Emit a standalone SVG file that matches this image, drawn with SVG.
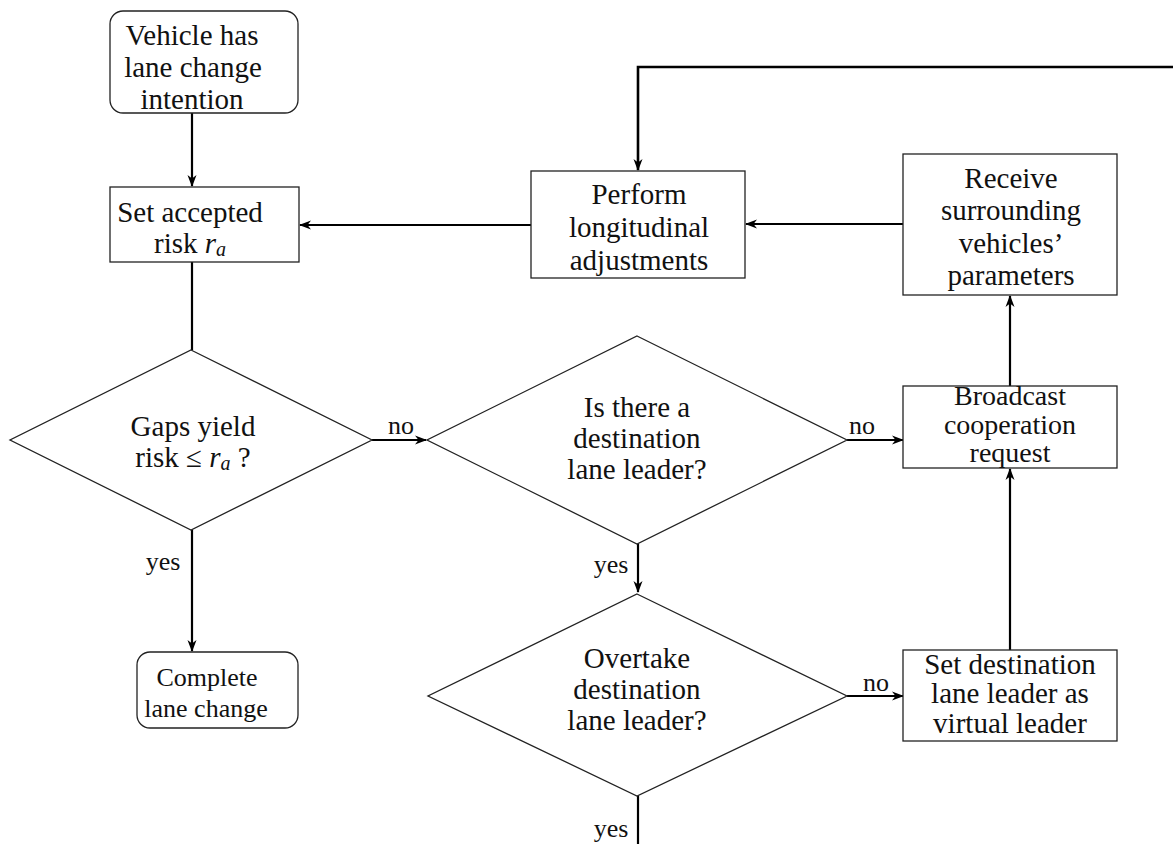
<svg xmlns="http://www.w3.org/2000/svg" width="1173" height="844" viewBox="0 0 1173 844">
<style>
.shape{fill:#fff;stroke:#222;stroke-width:1.3}
.conn{fill:none;stroke:#000;stroke-width:2.2}
text{font-family:"Liberation Serif","Times New Roman",serif;font-size:29px;fill:#111;text-anchor:middle}
.lbl{font-size:26px}
.bc{font-size:28px}
.cp{font-size:26px}
.it{font-style:italic}
.sub{font-style:italic;font-size:20px}
</style>
<defs>
<marker id="ah" markerWidth="12" markerHeight="10" refX="11" refY="5" orient="auto" markerUnits="userSpaceOnUse">
<path d="M0,0.5 L12,5 L0,9.5 L3.5,5 Z" fill="#000"/>
</marker>
</defs>
<rect width="1173" height="844" fill="#fff"/>
<g id="connectors">
<line class="conn" x1="192" y1="113" x2="192" y2="186" marker-end="url(#ah)"/>
<line class="conn" x1="531" y1="225" x2="300" y2="225" marker-end="url(#ah)"/>
<line class="conn" x1="903" y1="224" x2="746" y2="224" marker-end="url(#ah)"/>
<polyline class="conn" points="1173,67 638,67 638,170" marker-end="url(#ah)" style="stroke-width:2.6"/>
<line class="conn" x1="192" y1="262" x2="192" y2="350"/>
<line class="conn" x1="372" y1="440" x2="426" y2="440" marker-end="url(#ah)"/>
<line class="conn" x1="847" y1="440" x2="903" y2="440" marker-end="url(#ah)"/>
<line class="conn" x1="1010" y1="386" x2="1010" y2="296" marker-end="url(#ah)"/>
<line class="conn" x1="192" y1="530" x2="192" y2="651" marker-end="url(#ah)"/>
<line class="conn" x1="638" y1="544" x2="638" y2="592" marker-end="url(#ah)"/>
<line class="conn" x1="847" y1="696" x2="903" y2="696" marker-end="url(#ah)"/>
<line class="conn" x1="1010" y1="650" x2="1010" y2="469" marker-end="url(#ah)"/>
<line class="conn" x1="638" y1="796" x2="638" y2="844"/>
<text class="lbl" x="401" y="434">no</text>
<text class="lbl" x="862" y="434">no</text>
<text class="lbl" x="876" y="691">no</text>
<text class="lbl" x="163" y="570">yes</text>
<text class="lbl" x="611" y="573">yes</text>
<text class="lbl" x="611" y="837">yes</text>
</g>
<g id="start">
<rect class="shape" x="110" y="11" width="188" height="102" rx="13"/>
<text x="192" y="45">Vehicle has</text>
<text x="193" y="77">lane change</text>
<text x="192" y="109">intention</text>
</g>
<g id="set-risk">
<rect class="shape" x="110" y="187" width="189" height="75"/>
<text x="190" y="222">Set accepted</text>
<text x="190" y="253">risk <tspan class="it">r</tspan><tspan class="sub" dy="3">a</tspan></text>
</g>
<g id="perform">
<rect class="shape" x="531" y="171" width="214" height="107"/>
<text x="639" y="204">Perform</text>
<text x="639" y="237">longitudinal</text>
<text x="639" y="270">adjustments</text>
</g>
<g id="receive">
<rect class="shape" x="903" y="154" width="214" height="141"/>
<text x="1011" y="188">Receive</text>
<text x="1011" y="220">surrounding</text>
<text x="1011" y="253">vehicles’</text>
<text x="1011" y="285">parameters</text>
</g>
<g id="gaps">
<polygon class="shape" points="191,350 372,440 191,530 10,440"/>
<text x="193" y="436">Gaps yield</text>
<text x="193" y="467">risk ≤   <tspan class="it">r</tspan><tspan class="sub" dy="3">a</tspan><tspan dy="-3"> ?</tspan></text>
</g>
<g id="leader">
<polygon class="shape" points="637,336 847,440 637,544 427,440"/>
<text x="637" y="417">Is there a</text>
<text x="637" y="448">destination</text>
<text x="637" y="479">lane leader?</text>
</g>
<g id="broadcast">
<rect class="shape" x="903" y="386" width="214" height="82"/>
<text class="bc" x="1010" y="405">Broadcast</text>
<text class="bc" x="1010" y="434">cooperation</text>
<text class="bc" x="1010" y="462">request</text>
</g>
<g id="complete">
<rect class="shape" x="137" y="652" width="161" height="76" rx="13"/>
<text class="cp" x="207" y="686">Complete</text>
<text class="cp" x="206" y="717">lane change</text>
</g>
<g id="overtake">
<polygon class="shape" points="637,594 847,696 637,796 428,696"/>
<text x="637" y="668">Overtake</text>
<text x="637" y="699">destination</text>
<text x="637" y="730">lane leader?</text>
</g>
<g id="virtual">
<rect class="shape" x="903" y="650" width="214" height="91"/>
<text x="1010" y="674">Set destination</text>
<text x="1010" y="703">lane leader as</text>
<text x="1010" y="733">virtual leader</text>
</g>
</svg>
